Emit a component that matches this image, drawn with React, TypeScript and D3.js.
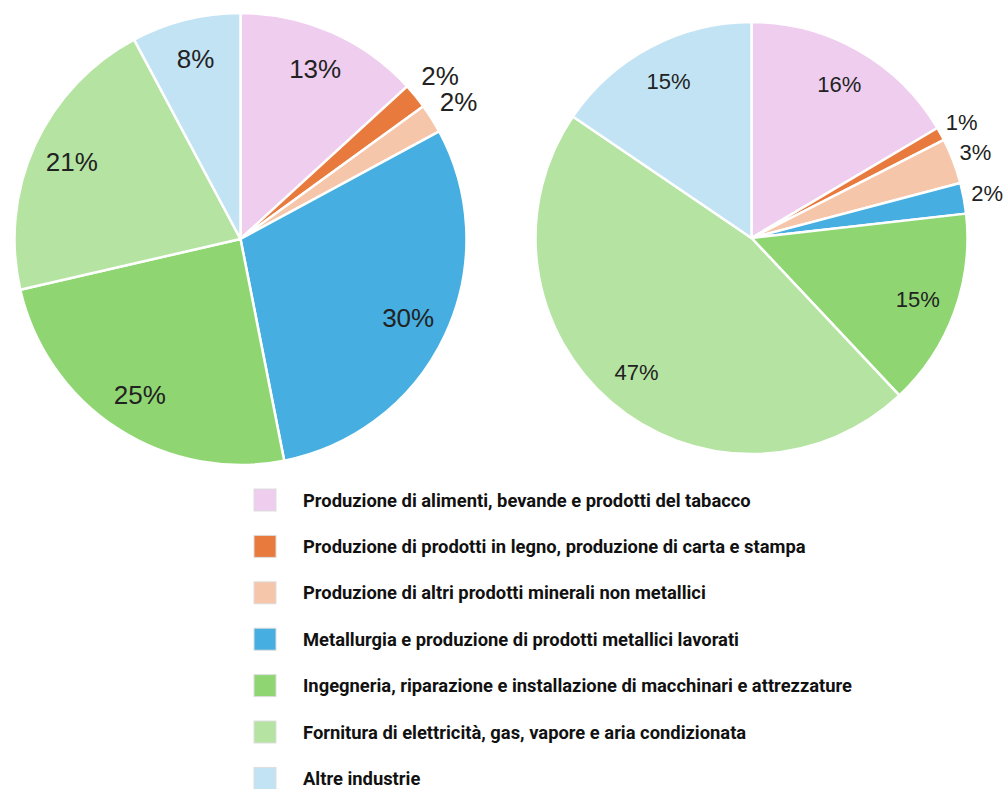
import React, { useLayoutEffect, useRef, useState } from "react";
import * as d3 from "d3";

const categories = [
  "Produzione di alimenti, bevande e prodotti del tabacco",
  "Produzione di prodotti in legno, produzione di carta e stampa",
  "Produzione di altri prodotti minerali non metallici",
  "Metallurgia e produzione di prodotti metallici lavorati",
  "Ingegneria, riparazione e installazione di macchinari e attrezzature",
  "Fornitura di elettricità, gas, vapore e aria condizionata",
  "Altre industrie",
];
const colors = ["#efcdee", "#e97a3e", "#f6c6aa", "#46aee0", "#8fd673", "#b5e4a2", "#c1e3f3"];
const leftValues = [13.2, 1.8, 2.1, 29.8, 24.5, 20.8, 7.8];
const leftLabels = ["13%", "2%", "2%", "30%", "25%", "21%", "8%"];
const rightValues = [16.5, 1.0, 3.4, 2.3, 14.8, 46.5, 15.5];
const rightLabels = ["16%", "1%", "3%", "2%", "15%", "47%", "15%"];

type PieProps = { cx: number; cy: number; r: number; values: number[]; labels: string[]; fontSize: number; outerK: number };

function Pie({ cx, cy, r, values, labels, fontSize, outerK }: PieProps) {
  const pie = d3.pie<number>().sort(null).value((d) => d);
  const arcs = pie(values);
  const arc = d3.arc<d3.PieArcDatum<number>>().innerRadius(0).outerRadius(r);
  const total = d3.sum(values);
  return (
    <g transform={`translate(${cx},${cy})`}>
      {arcs.map((a, i) => (
        <path key={i} d={arc(a) || ""} fill={colors[i]} stroke="#ffffff" strokeWidth={2.5} strokeLinejoin="round" />
      ))}
      {arcs.map((a, i) => {
        const mid = (a.startAngle + a.endAngle) / 2;
        const small = a.value / total < 0.05;
        const rr = small ? r * outerK : r * 0.82;
        const x = Math.sin(mid) * rr;
        const y = -Math.cos(mid) * rr;
        return (
          <text key={"t" + i} x={x} y={y} textAnchor="middle" dominantBaseline="central"
            fontFamily="'Liberation Sans', Arial, sans-serif" fontSize={fontSize} fill="#222">
            {labels[i]}
          </text>
        );
      })}
    </g>
  );
}

export default function App() {
  const legendRef = useRef<SVGGElement>(null);
  const [sx, setSx] = useState(0.79);
  useLayoutEffect(() => {
    const g = legendRef.current;
    if (!g) return;
    const texts = Array.from(g.querySelectorAll("text")) as SVGTextElement[];
    const w = d3.max(texts, (t) => t.getComputedTextLength()) || 1;
    setSx(549 / w);
  }, []);
  const legendX = 254;
  const legendY0 = 500;
  const legendStep = 46.4;
  const textX = 303;
  return (
    <svg width={1004} height={789} style={{ position: "absolute", left: 0, top: 0, background: "#fff" }}>
      <Pie cx={240.5} cy={239} r={226} values={leftValues} labels={leftLabels} fontSize={26} outerK={1.14} />
      <Pie cx={751.5} cy={238} r={216} values={rightValues} labels={rightLabels} fontSize={22} outerK={1.11} />
      <g>
        {categories.map((c, i) => (
          <rect key={i} x={legendX} y={legendY0 + i * legendStep - 11} width={22} height={22} fill={colors[i]} stroke="#dddddd" strokeWidth={1} />
        ))}
      </g>
      <g ref={legendRef}>
        {categories.map((c, i) => (
          <text key={i} transform={`translate(${textX},${legendY0 + i * legendStep + 6.5}) scale(${sx},1)`}
            fontFamily="Roboto, 'Open Sans', sans-serif" fontWeight="bold" fontSize={19} fill="#111">
            {c}
          </text>
        ))}
      </g>
    </svg>
  );
}
